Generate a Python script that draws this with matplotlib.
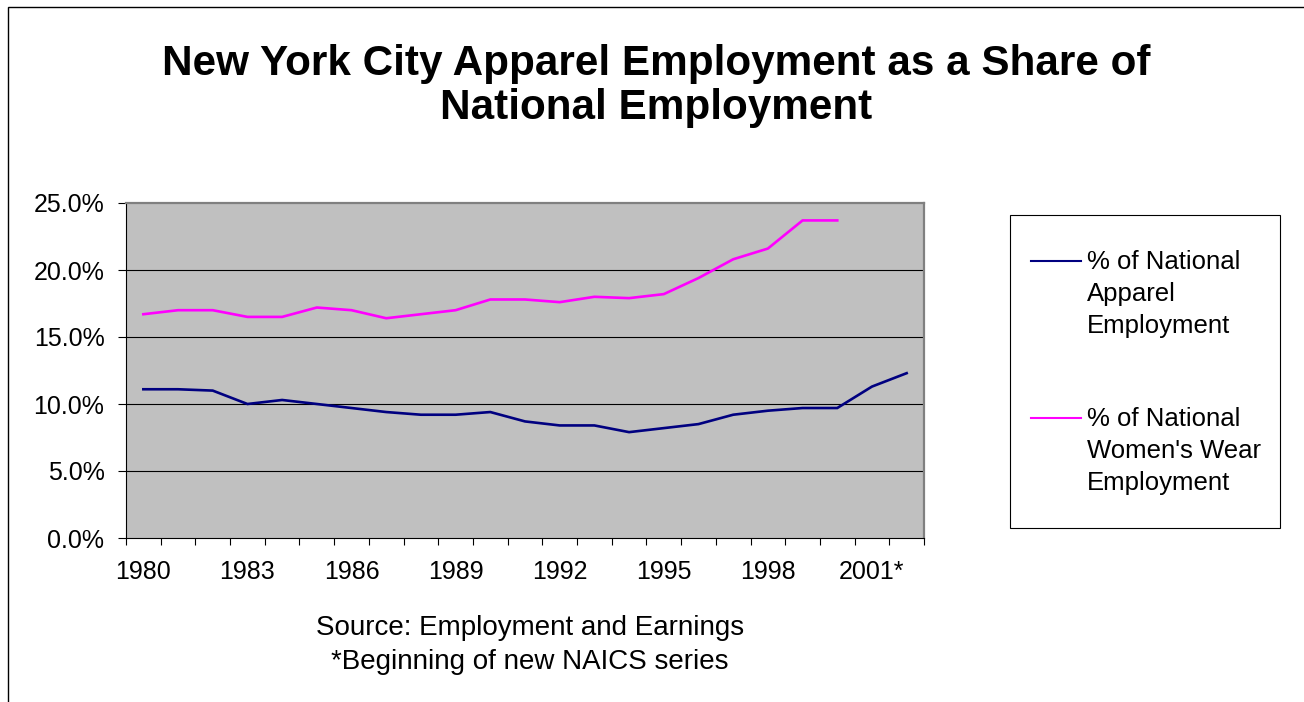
import numpy as np
import matplotlib
matplotlib.use("Agg")
from matplotlib import pyplot as plt
from matplotlib.lines import Line2D
from matplotlib.patches import Rectangle
from matplotlib.ticker import FuncFormatter

plt.rcParams["font.family"] = ["Liberation Sans", "DejaVu Sans"]

# data (percent of national employment)
years = list(range(1980, 2003))
year_labels = ["1980", "1983", "1986", "1989", "1992", "1995", "1998", "2001*"]
apparel_share = [11.1, 11.1, 11.0, 10.0, 10.3, 10.0, 9.7, 9.4, 9.2, 9.2, 9.4,
                 8.7, 8.4, 8.4, 7.9, 8.2, 8.5, 9.2, 9.5, 9.7, 9.7, 11.3, 12.3]
womens_wear_share = [16.7, 17.0, 17.0, 16.5, 16.5, 17.2, 17.0, 16.4, 16.7, 17.0, 17.8,
                     17.8, 17.6, 18.0, 17.9, 18.2, 19.4, 20.8, 21.6, 23.7, 23.7,
                     np.nan, np.nan]
series_names = ["% of National\nApparel\nEmployment",
                "% of National\nWomen's Wear\nEmployment"]
series_colors = ["#000080", "#FF00FF"]

W, H = 1304, 702


def fx(x):
    return x / W


def fy(y):
    return 1 - y / H


fig = plt.figure(figsize=(W / 100, H / 100), dpi=100)
fig.patch.set_facecolor("white")

# outer chart border
fig.add_artist(Rectangle((fx(8), -0.05), 1.1, fy(7) + 0.05, transform=fig.transFigure,
                         fill=False, edgecolor="black", linewidth=1.0, clip_on=False))

ax = fig.add_axes([fx(126), fy(538), fx(924) - fx(126), fy(203) - fy(538)])
ax.set_facecolor("#C0C0C0")

xpos = np.arange(len(years)) + 0.5
ax.plot(xpos, apparel_share, color=series_colors[0], linewidth=1.9, solid_joinstyle="miter")
ax.plot(xpos, womens_wear_share, color=series_colors[1], linewidth=1.9, solid_joinstyle="miter")

ax.set_xlim(0, len(years))
ax.set_ylim(0, 25)

for g in [5, 10, 15, 20]:
    ax.axhline(g, color="black", linewidth=0.8, zorder=1)

ax.set_yticks([0, 5, 10, 15, 20, 25])
ax.yaxis.set_major_formatter(FuncFormatter(lambda v, p: f"{v:.1f}%"))
ax.tick_params(axis="y", direction="out", length=6, width=0.8, pad=9.5,
               labelsize=18, colors="black")

label_idx = [years.index(int(s.rstrip("*"))) for s in year_labels]
ax.set_xticks(xpos[label_idx])
ax.set_xticklabels(year_labels)
ax.set_xticks(np.arange(len(years) + 1), minor=True)
ax.tick_params(axis="x", which="major", length=0, pad=16, labelsize=18)
ax.tick_params(axis="x", which="minor", direction="out", length=5, width=0.8)

for side in ["top", "right"]:
    ax.spines[side].set_color("#808080")
    ax.spines[side].set_linewidth(1.6)
for side in ["left", "bottom"]:
    ax.spines[side].set_color("black")
    ax.spines[side].set_linewidth(0.8)

# title
fig.text(fx(656), fy(86), "New York City Apparel Employment as a Share of\nNational Employment",
         ha="center", va="center", fontsize=30.4, fontweight="bold", linespacing=1.15)

# source note
fig.text(fx(530), fy(645), "Source: Employment and Earnings\n*Beginning of new NAICS series",
         ha="center", va="center", fontsize=20, linespacing=1.38)

# legend box
fig.add_artist(Rectangle((fx(1010), fy(528)), fx(1280) - fx(1010), fy(215) - fy(528),
                         transform=fig.transFigure, facecolor="white",
                         edgecolor="black", linewidth=0.8))
handle_y = [261, 418]
for name, color, hy in zip(series_names, series_colors, handle_y):
    fig.add_artist(Line2D([fx(1031), fx(1081)], [fy(hy), fy(hy)], color=color,
                          linewidth=1.5, transform=fig.transFigure))
    fig.text(fx(1087), fy(hy + 33), name, ha="left", va="center",
             fontsize=18.5, linespacing=1.4)

fig.savefig("out.png", dpi=100)
